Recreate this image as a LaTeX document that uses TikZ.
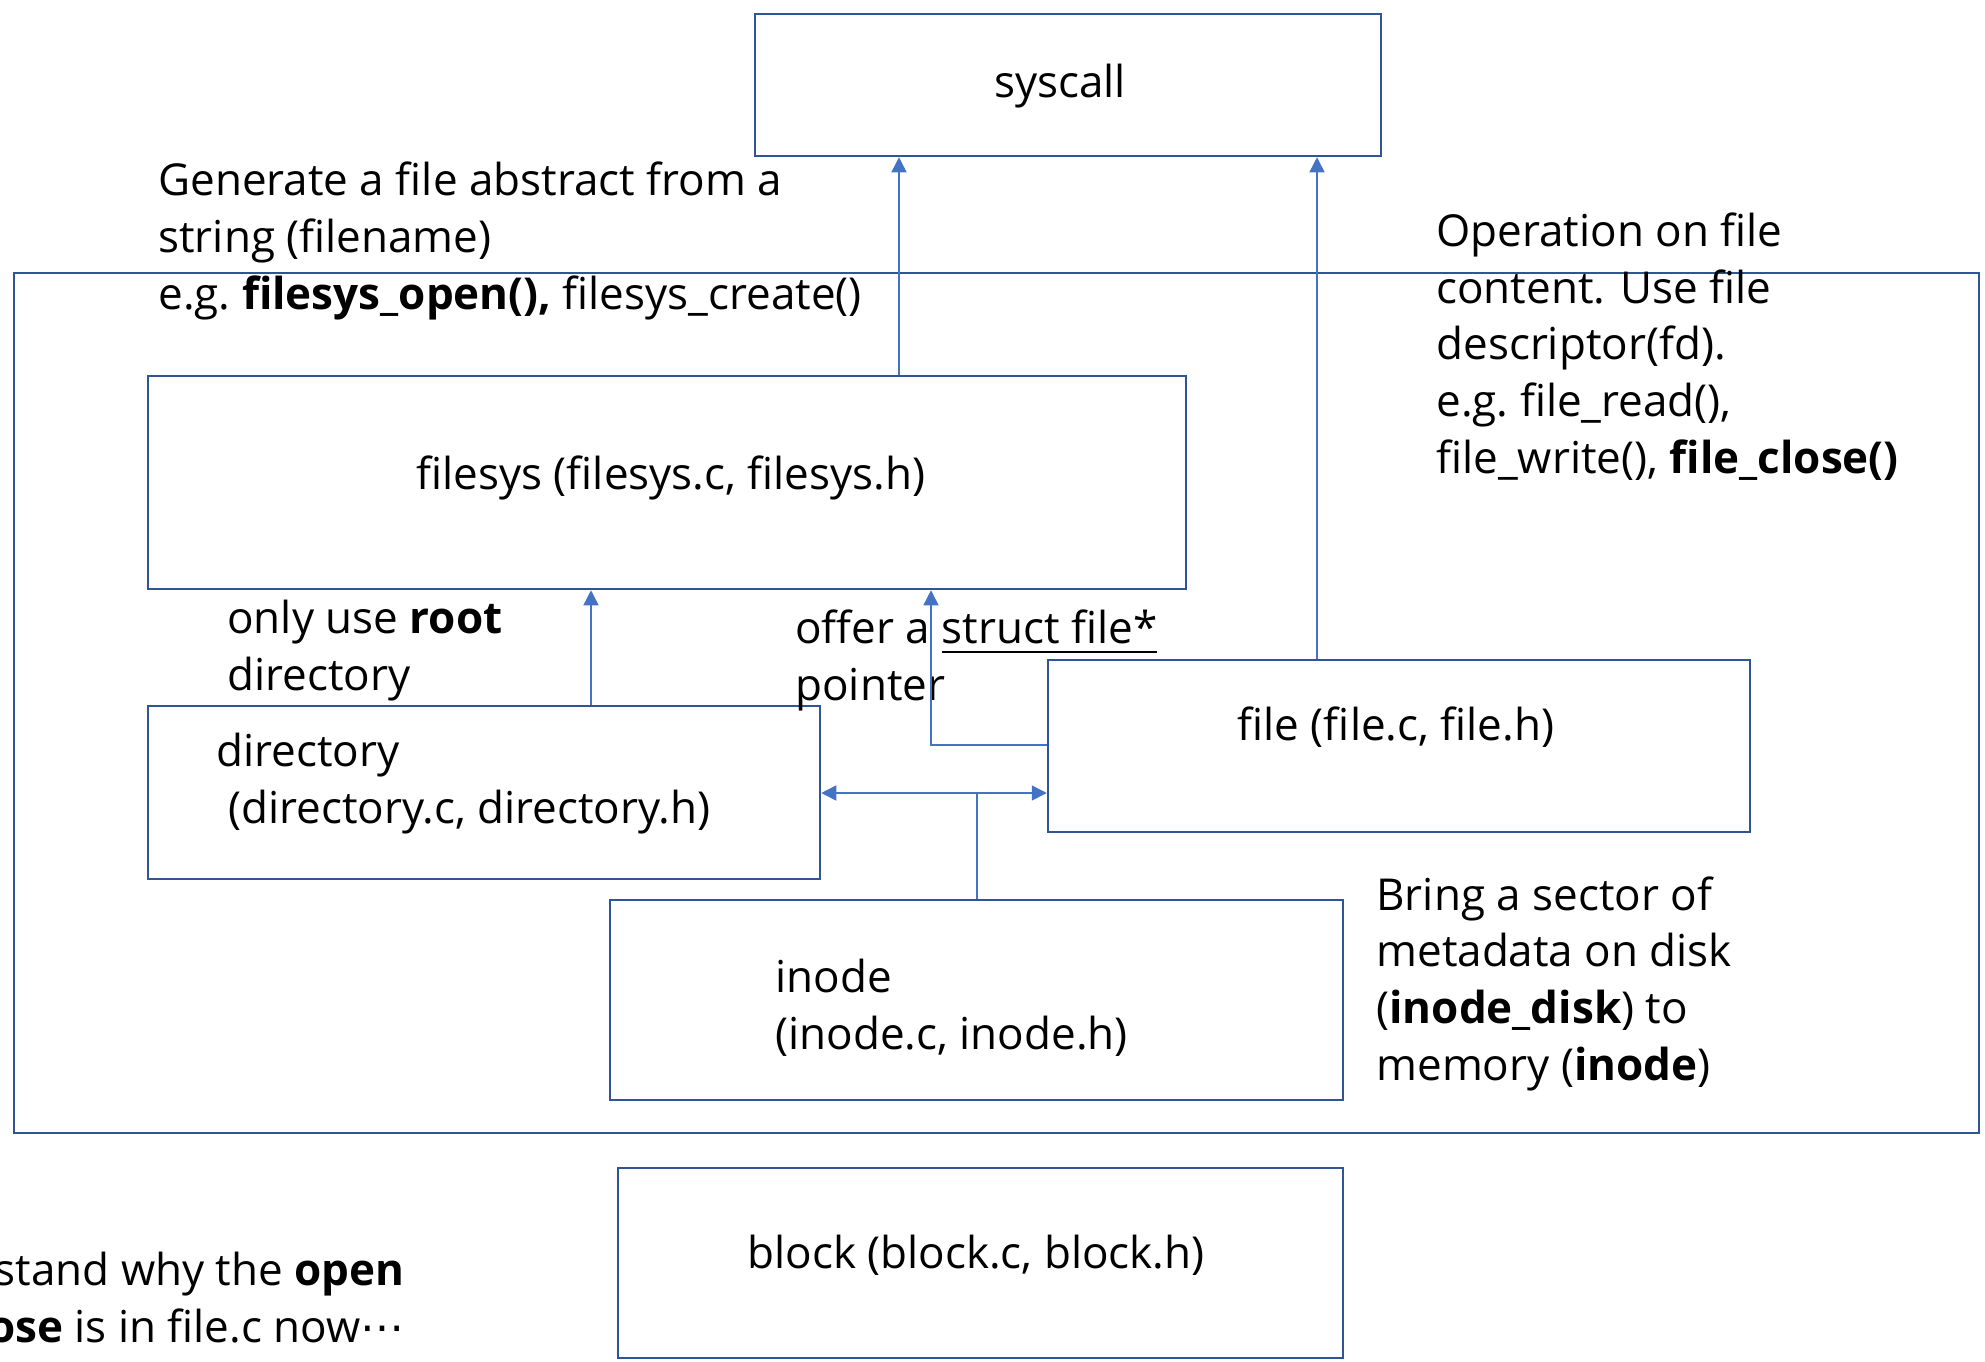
\documentclass[tikz,border=0pt]{standalone}
\usepackage{fontspec}
\setmainfont{Open Sans}
\newfontfamily\symfont{DejaVu Sans}
\usetikzlibrary{arrows.meta,fit}
\definecolor{boxblue}{HTML}{2F5597}
\definecolor{lineblue}{HTML}{4472C4}
\newcommand\fs{\fontsize{22pt}{28.3pt}\selectfont}
\newcommand\myul[1]{\leavevmode\vtop{\hbox{#1}\kern3.5pt\hrule height 1.2pt}}
\tikzset{
  box/.style={draw=boxblue, line width=1.25pt, inner sep=0pt},
  conn/.style={draw=lineblue, line width=0.75pt},
  arr/.style={conn, -{Triangle[width=7.5pt,length=7.5pt]}},
  darr/.style={conn, {Triangle[width=7.5pt,length=7.5pt]}-{Triangle[width=7.5pt,length=7.5pt]}},
  txt/.style={font=\fs, text=black, inner sep=0pt, align=left, anchor=base west},
  ctxt/.style={font=\fs, text=black, inner sep=0pt, anchor=base},
}
\begin{document}
\begin{tikzpicture}[x=0.5pt,y=-0.5pt]
\useasboundingbox (0,0) rectangle (1985,1361);
% boxes
\node[box, fit={(755,14) (1381,156)}] (syscall) {};
\node[box, fit={(14,273) (1979,1133)}] (outer) {};
\node[box, fit={(148,376) (1186,589)}] (filesys) {};
\node[box, fit={(148,706) (820,879)}] (directory) {};
\node[box, fit={(1048,660) (1750,832)}] (file) {};
\node[box, fit={(610,900) (1343,1100)}] (inode) {};
\node[box, fit={(618,1168) (1343,1358)}] (block) {};
% box texts (base = baseline of the last line)
\node[ctxt] (tsys) at (1060,97) {syscall};
\node[ctxt] (tfs) at (671,489) {filesys (filesys.c, filesys.h)};
\node[ctxt] (tfile) at (1396,740) {file (file.c, file.h)};
\node[ctxt] (tblock) at (976,1268) {block (block.c, block.h)};
\node[txt] (tdir) at (216,823) {directory\\\hspace*{6pt}(directory.c, directory.h)};
\node[txt] (tinode) at (775,1049) {inode\\(inode.c, inode.h)};
% annotations
\node[txt] (agen) at (158,309) {Generate a file abstract from a\\string (filename)\\e.g.\ \textbf{filesys\_open(),} filesys\_create()};
\node[txt] (aop) at (1436,473) {Operation on file\\content. Use file\\descriptor(fd).\\e.g.\ file\_read(),\\file\_write(), \textbf{file\_close()}};
\node[txt] (aroot) at (227,690) {only use \textbf{root}\\directory};
\node[txt] (aoffer) at (795,700) {offer a \myul{struct file*}\\pointer};
\node[txt] (abring) at (1376,1080) {Bring a sector of\\metadata on disk\\(\textbf{inode\_disk}) to\\memory (\textbf{inode})};
\begin{scope}
\clip (0,0) rectangle (1985,1361);
\node[font=\fs, text=black, inner sep=0pt, align=right, anchor=base east] (anote) at (405,1342) {stand why the \textbf{open}\\\textbf{ose} is in file.c now{\symfont ⋯}};
\end{scope}
% connectors
\coordinate (xa) at (899,0);
\coordinate (xb) at (1317,0);
\coordinate (xc) at (591,0);
\coordinate (xd) at (931,0);
\coordinate (ye) at (0,745);
\coordinate (yf) at (0,793);
\coordinate (xg) at (977,0);
\draw[arr] (filesys.north -| xa) -- (syscall.south -| xa);
\draw[arr] (file.north -| xb) -- (syscall.south -| xb);
\draw[arr] (directory.north -| xc) -- (filesys.south -| xc);
\draw[arr] (file.west |- ye) -| (filesys.south -| xd);
\draw[darr] (directory.east |- yf) -- (file.west |- yf);
\draw[conn] (inode.north -| xg) -- (xg |- yf);
\end{tikzpicture}
\end{document}
